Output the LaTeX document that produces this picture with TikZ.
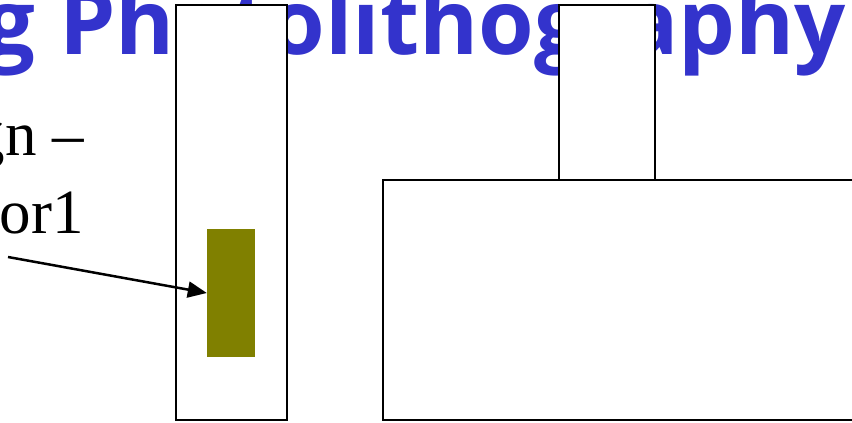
\documentclass[tikz,border=0pt]{standalone}
\usepackage{fontspec}
\setmainfont{Liberation Serif}
\newfontfamily\titlefont{Open Sans}
\usetikzlibrary{arrows.meta}
\definecolor{titleblue}{HTML}{3333CC}
\definecolor{maskolive}{HTML}{808000}
\tikzset{
  box/.style={draw=black, fill=white, line width=2.6pt},
  label/.style={inner sep=0pt, anchor=base east}
}
\begin{document}
\begin{tikzpicture}[x=1pt,y=-1pt]
  \useasboundingbox (0,0) rectangle (852,423);
  \clip (0,0) rectangle (852,423);
  % title of the slide, partly hidden
  \node[inner sep=0pt, anchor=base east, text=titleblue] (title) at (846,54)
    {\titlefont\bfseries\fontsize{90}{100}\selectfont g Photolithography};
  % text on the left
  \node[label] (line1) at (84,155) {\fontsize{63}{78}\selectfont gn --};
  \node[label] (line2) at (84,233) {\fontsize{63}{78}\selectfont tor1};
  % mask and layout boxes
  \draw[box] (176,5) rectangle (287,420);
  \draw[box] (559,5) rectangle (655,180);
  \draw[box] (383,180) rectangle (870,420);
  \node[fill=maskolive, minimum width=48pt, minimum height=128pt, inner sep=0pt]
    (mask) at (231,293) {};
  \coordinate (start) at (8,257);
  \draw[line width=2.5pt, -{Triangle[length=19pt,width=16pt]}] (start) -- (mask.west);
\end{tikzpicture}
\end{document}
